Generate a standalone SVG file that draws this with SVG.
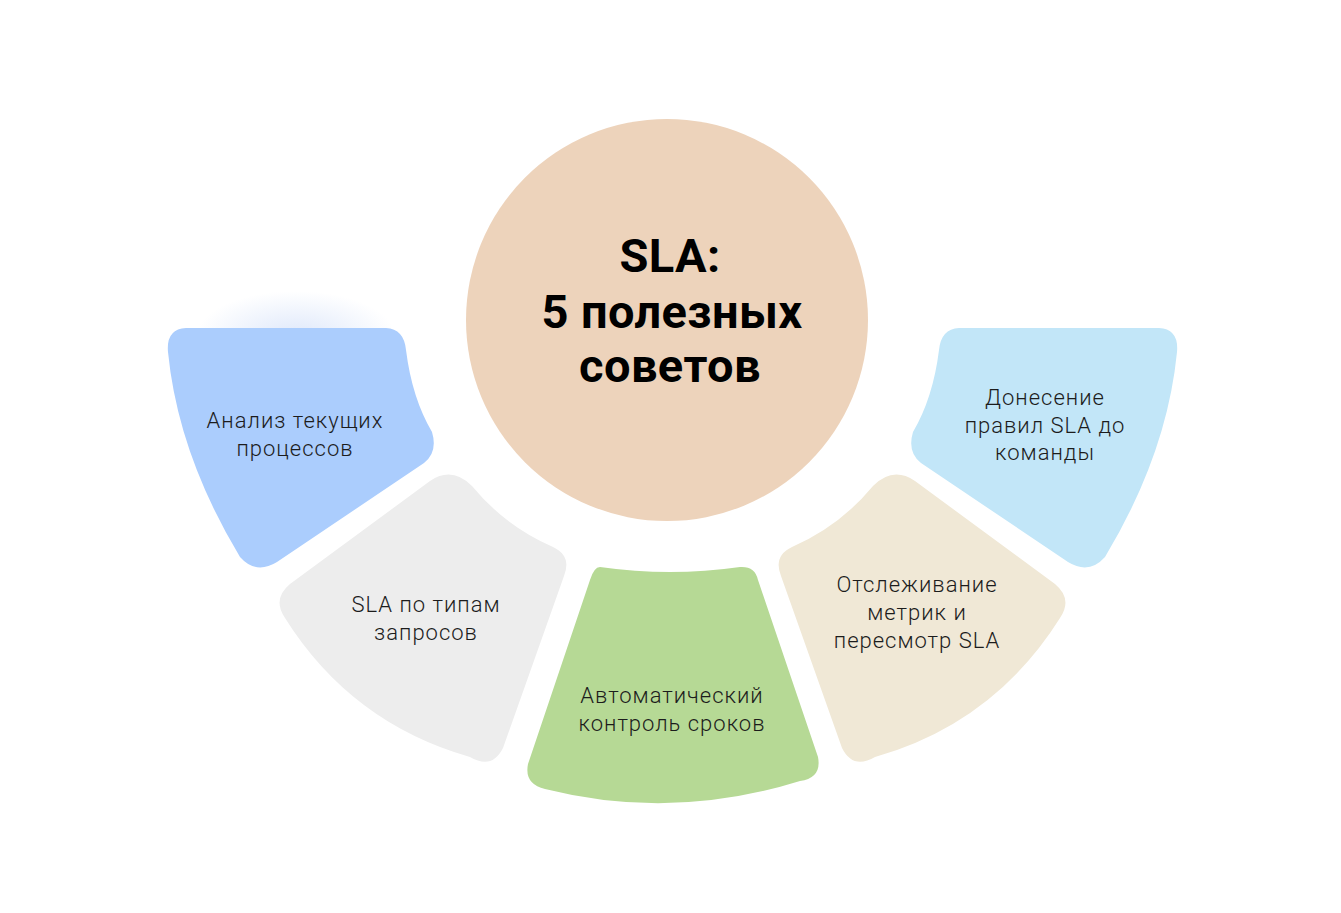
<svg xmlns="http://www.w3.org/2000/svg" width="1341" height="913" viewBox="0 0 1341 913">
<defs>
<radialGradient id="glow" cx="0.5" cy="0.75" r="0.5">
<stop offset="0" stop-color="#bcd0f6" stop-opacity="0.5"/>
<stop offset="1" stop-color="#bcd0f6" stop-opacity="0"/>
</radialGradient>
<path id="segA" d="M 186,328 L 386,328 Q 404,329 406,350 Q 412,398 432,432 Q 438,452 424,463 L 277,562 Q 256,575 240,557 Q 178,454 168,352 Q 166,329 186,328 Z"/>
<path id="segB" d="M 430,481 Q 452,466 472,486 Q 505,526 553,547 Q 572,556 564,576 L 503,748 Q 492,770 470,757 Q 351,723 285,618 Q 272,599 290,584 Z"/>
</defs>
<style>
.lbl{font-family:Roboto,"Liberation Sans",sans-serif;font-weight:300;font-size:22px;letter-spacing:1px;fill:#1c1c1c;text-anchor:middle}
.ttl{font-family:Roboto,"Liberation Sans",sans-serif;font-weight:700;font-size:47px;letter-spacing:0.4px;fill:#000;text-anchor:middle}
</style>
<rect width="1341" height="913" fill="#ffffff"/>
<ellipse cx="296" cy="314" rx="100" ry="46" fill="url(#glow)"/>
<g id="connectors"></g>
<g id="center">
<circle cx="667" cy="320" r="201" fill="#edd3bb"/>
<text class="ttl" x="670" y="272">SLA:</text>
<text class="ttl" x="672" y="328">5 полезных</text>
<text class="ttl" x="670" y="382">советов</text>
</g>
<g id="n1">
<use href="#segA" fill="#abcdfd"/>
<text class="lbl" x="295" y="428">Анализ текущих</text>
<text class="lbl" x="295" y="456">процессов</text>
</g>
<g id="n2">
<use href="#segB" fill="#ededed"/>
<text class="lbl" x="426" y="612">SLA по типам</text>
<text class="lbl" x="426" y="640">запросов</text>
</g>
<g id="n3">
<path d="M 600,567 Q 670,577 740,567 Q 755,566 758,580 L 818,757 Q 822,778 800,781 Q 672,821 545,789 Q 524,784 528,764 L 590,580 Q 594,567 600,567 Z" fill="#b6d995"/>
<text class="lbl" x="672" y="703">Автоматический</text>
<text class="lbl" x="672" y="731">контроль сроков</text>
</g>
<g id="n4">
<use href="#segB" fill="#f0e8d6" transform="translate(1345,0) scale(-1,1)"/>
<text class="lbl" x="917" y="592">Отслеживание</text>
<text class="lbl" x="917" y="620">метрик и</text>
<text class="lbl" x="917" y="648">пересмотр SLA</text>
</g>
<g id="n5">
<use href="#segA" fill="#c2e6f8" transform="translate(1345,0) scale(-1,1)"/>
<text class="lbl" x="1045" y="405">Донесение</text>
<text class="lbl" x="1045" y="433">правил SLA до</text>
<text class="lbl" x="1045" y="460">команды</text>
</g>
</svg>
